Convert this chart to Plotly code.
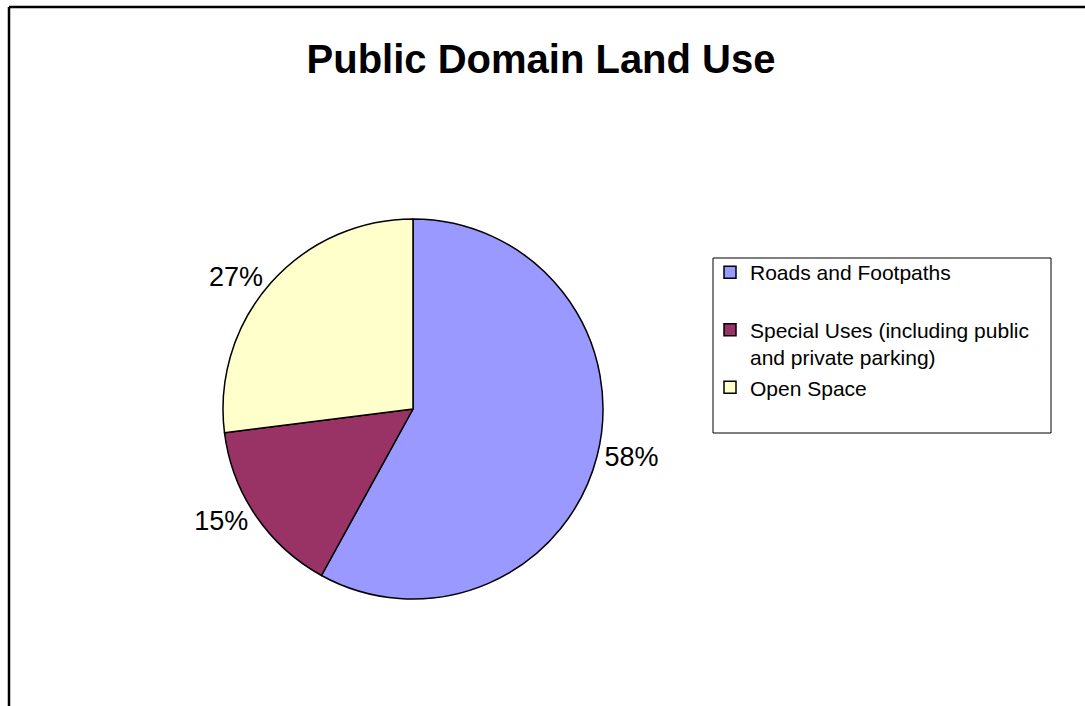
import plotly.graph_objects as go

categories = ["Roads and Footpaths", "\u00a0<br>Special Uses (including public<br>and private parking)", "Open Space"]
values = [58, 15, 27]
colors = ["#9999FF", "#993366", "#FFFFCC"]
title_text = "Public Domain Land Use"

W, H = 1085, 706
cx, cy, r = 413, 409, 190
FONT = "Liberation Sans, Arial, sans-serif"

fig = go.Figure(go.Pie(
    labels=categories,
    values=values,
    sort=False,
    direction="clockwise",
    rotation=0,
    marker=dict(colors=colors, line=dict(color="black", width=1.5)),
    textinfo="percent",
    texttemplate="%{percent:.0%}",
    textposition="outside",
    textfont=dict(family=FONT, size=27, color="black"),
    domain=dict(x=[(cx - r) / W, (cx + r) / W], y=[(H - cy - r) / H, (H - cy + r) / H]),
    hoverinfo="percent",
))

fig.update_layout(
    width=W, height=H,
    margin=dict(l=0, r=0, t=0, b=0),
    paper_bgcolor="white",
    title=dict(text="<b>" + title_text + "</b>", x=541 / W, xanchor="center",
               y=1 - 59 / H, yanchor="middle",
               font=dict(family=FONT, size=40, color="black")),
    showlegend=True,
    legend=dict(x=710 / W, y=1 - 252 / H, xanchor="left", yanchor="top",
                font=dict(family=FONT, size=21, color="black"),
                bgcolor="rgba(0,0,0,0)", borderwidth=0, tracegroupgap=0,
                itemwidth=30),
    shapes=[
        dict(type="rect", xref="paper", yref="paper",
             x0=713 / W, x1=1051 / W, y0=1 - 433 / H, y1=1 - 258 / H,
             line=dict(color="black", width=1), fillcolor="rgba(0,0,0,0)"),
        dict(type="line", xref="paper", yref="paper", x0=9 / W, x1=1.01, y0=1 - 7 / H, y1=1 - 7 / H,
             line=dict(color="black", width=2.5)),
        dict(type="line", xref="paper", yref="paper", x0=9 / W, x1=9 / W, y0=1 - 7 / H, y1=-0.01,
             line=dict(color="black", width=2.5)),
    ],
)

fig.write_html("out.html")
